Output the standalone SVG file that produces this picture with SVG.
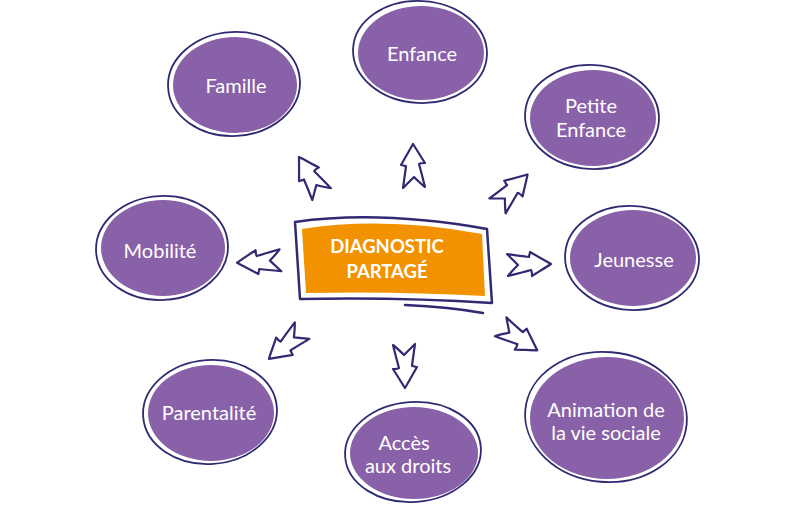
<svg xmlns="http://www.w3.org/2000/svg" width="795" height="506" viewBox="0 0 795 506">
<style>
.fill{fill:#8961a9}
.ring{fill:none;stroke:#2f2a72;stroke-width:1.8}
.lbl{font-family:Lato,"Open Sans",sans-serif;font-size:20px;fill:#ffffff;text-anchor:middle}
.ctr{font-family:Lato,"Open Sans",sans-serif;font-size:18.5px;font-weight:bold;fill:#ffffff;text-anchor:middle}
.arr{fill:#ffffff;stroke:#2f2a72;stroke-width:2.2;stroke-linejoin:round}
</style>
<defs>
<path id="arrow" d="M0,-22 C4,-16 8,-9 12,-3 C9,-3 7,-3 6,-2 C8,5 10,13 12,21 C8,18 5,15 1,11 C-3,15 -7,19 -10,22 C-9,15 -8,8 -7,0 C-9,0 -10,-1 -12,-1 C-8,-8 -4,-15 0,-22 Z"/>
</defs>
<rect width="795" height="506" fill="#ffffff"/>
<g id="connectors">
<use href="#arrow" class="arr" transform="translate(310,176) rotate(-30)"/>
<use href="#arrow" class="arr" transform="translate(413,166)"/>
<use href="#arrow" class="arr" transform="translate(512,190) rotate(45)"/>
<use href="#arrow" class="arr" transform="translate(529,264) rotate(90)"/>
<use href="#arrow" class="arr" transform="translate(519,338) rotate(124)"/>
<use href="#arrow" class="arr" transform="translate(405,366) rotate(180)"/>
<use href="#arrow" class="arr" transform="translate(286,345) rotate(231)"/>
<use href="#arrow" class="arr" transform="translate(259,262) rotate(-92)"/>
</g>
<g id="center">
<path d="M302,229 Q385,216 482,234 L485,296 Q395,291 306,293 Z" fill="#f39200"/>
<path d="M295,222 Q380,210 487,229 L492,303 Q400,297 300,299 Z" fill="none" stroke="#2f2a72" stroke-width="2.5" stroke-linejoin="round"/>
<path d="M405,305 Q450,307 483,313" fill="none" stroke="#2f2a72" stroke-width="2.5" stroke-linecap="round"/>
<text class="ctr" x="387" y="253">DIAGNOSTIC</text>
<text class="ctr" x="387" y="278">PARTAGÉ</text>
</g>
<g id="famille">
<ellipse class="fill" cx="235" cy="85" rx="62" ry="48"/>
<ellipse class="ring" cx="234" cy="84" rx="66" ry="52" transform="rotate(-3 234 84)"/>
<text class="lbl" x="236" y="93">Famille</text>
</g>
<g id="enfance">
<ellipse class="fill" cx="421" cy="53" rx="63" ry="47"/>
<ellipse class="ring" cx="420" cy="52" rx="67" ry="51" transform="rotate(3 420 52)"/>
<text class="lbl" x="422" y="61">Enfance</text>
</g>
<g id="petite-enfance">
<ellipse class="fill" cx="593" cy="118" rx="63" ry="48"/>
<ellipse class="ring" cx="592" cy="117" rx="67" ry="52" transform="rotate(3 592 117)"/>
<text class="lbl" x="591" y="113">Petite</text>
<text class="lbl" x="591" y="137">Enfance</text>
</g>
<g id="jeunesse">
<ellipse class="fill" cx="633" cy="258" rx="63" ry="48"/>
<ellipse class="ring" cx="632" cy="258" rx="67" ry="52" transform="rotate(3 632 258)"/>
<text class="lbl" x="634" y="267">Jeunesse</text>
</g>
<g id="mobilite">
<ellipse class="fill" cx="163" cy="248" rx="62" ry="48"/>
<ellipse class="ring" cx="162" cy="248" rx="66" ry="52" transform="rotate(-3 162 248)"/>
<text class="lbl" x="160" y="258">Mobilité</text>
</g>
<g id="parentalite">
<ellipse class="fill" cx="211" cy="413" rx="63" ry="48"/>
<ellipse class="ring" cx="210" cy="412" rx="67" ry="52" transform="rotate(-4 210 412)"/>
<text class="lbl" x="209" y="420">Parentalité</text>
</g>
<g id="acces">
<ellipse class="fill" cx="414" cy="453" rx="64" ry="46"/>
<ellipse class="ring" cx="413" cy="452" rx="68" ry="50" transform="rotate(-4 413 452)"/>
<text class="lbl" x="404" y="450">Accès</text>
<text class="lbl" x="408" y="473">aux droits</text>
</g>
<g id="animation">
<ellipse class="fill" cx="607" cy="418" rx="77" ry="61"/>
<ellipse class="ring" cx="606" cy="417" rx="81" ry="65" transform="rotate(5 606 417)"/>
<text class="lbl" x="606" y="417">Animation de</text>
<text class="lbl" x="606" y="440">la vie sociale</text>
</g>
</svg>
